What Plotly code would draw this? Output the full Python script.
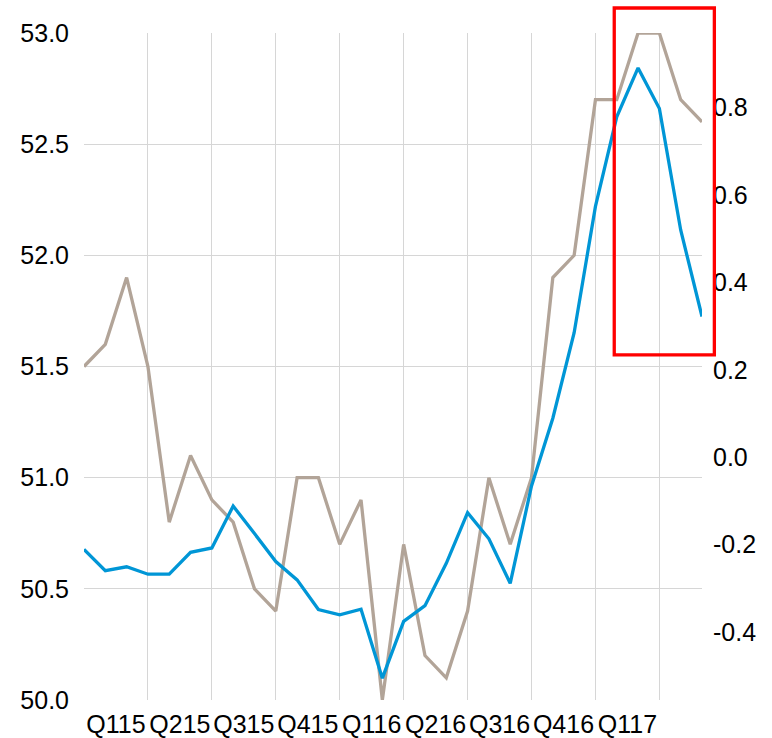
import plotly.graph_objects as go

# Monthly series, Jan 2015 - Jun 2017 (30 months)
months = list(range(30))
quarter_labels = ["Q115", "Q215", "Q315", "Q415", "Q116", "Q216", "Q316", "Q416", "Q117"]
quarter_centers = [1.5 + 3 * i for i in range(len(quarter_labels))]

# Left axis: index level
index_level = [51.5, 51.6, 51.9, 51.5, 50.8, 51.1, 50.9, 50.8, 50.5, 50.4,
               51.0, 51.0, 50.7, 50.9, 50.0, 50.7, 50.2, 50.1, 50.4, 51.0,
               50.7, 51.0, 51.9, 52.0, 52.7, 52.7, 53.0, 53.0, 52.7, 52.6]

# Right axis: change series
change_series = [-0.211, -0.260, -0.251, -0.268, -0.268, -0.218, -0.208, -0.112, -0.175, -0.239,
                 -0.281, -0.349, -0.361, -0.348, -0.506, -0.376, -0.340, -0.243, -0.127, -0.187,
                 -0.289, -0.066, 0.089, 0.285, 0.574, 0.779, 0.891, 0.798, 0.520, 0.322]

# Right-axis tick labels (plain hyphen for negatives)
right_ticks = [-0.4, -0.2, 0.0, 0.2, 0.4, 0.6, 0.8]
right_labels = ["-0.4", "-0.2", "0.0", "0.2", "0.4", "0.6", "0.8"]

GREY = "#B2A498"
BLUE = "#0096D6"
GRID = "#D6D6D6"
FONT = dict(family="Liberation Sans, Arial, sans-serif", size=25, color="#000000")

fig = go.Figure()
fig.add_trace(go.Scatter(x=months, y=index_level, mode="lines",
                         line=dict(color=GREY, width=3.3), yaxis="y", showlegend=False))
fig.add_trace(go.Scatter(x=months, y=change_series, mode="lines",
                         line=dict(color=BLUE, width=3.3), yaxis="y2", showlegend=False))

# Highlight box around the latest months
fig.add_shape(type="rect", xref="paper", yref="paper",
              x0=0.858, x1=1.020, y0=0.5175, y1=1.0375,
              line=dict(color="#FF0000", width=3.3), fillcolor="rgba(0,0,0,0)", layer="above")

fig.update_layout(
    width=772, height=738,
    margin=dict(l=84, r=70, t=33, b=38, autoexpand=False),
    paper_bgcolor="white", plot_bgcolor="white",
    font=FONT,
    showlegend=False,
    xaxis=dict(range=[0, 29], tickmode="array", tickvals=quarter_centers, ticktext=quarter_labels,
               showgrid=False, zeroline=False, showline=False, ticks="", automargin=False,
               ticklabelstandoff=7, tickfont=FONT,
               minor=dict(tick0=0, dtick=3, showgrid=True, gridcolor=GRID, gridwidth=1, ticks="")),
    yaxis=dict(range=[50, 53], dtick=0.5, tickformat=".1f", showgrid=True, gridcolor=GRID,
               gridwidth=1, zeroline=False, showline=False, ticks="", automargin=False,
               ticklabelstandoff=14, tickfont=FONT),
    yaxis2=dict(range=[-0.556, 0.971], tickmode="array", tickvals=right_ticks, ticktext=right_labels,
                overlaying="y", side="right", showgrid=False, zeroline=False, showline=False,
                ticks="", automargin=False, ticklabelstandoff=10, tickfont=FONT),
)

fig.write_html("out.html")
